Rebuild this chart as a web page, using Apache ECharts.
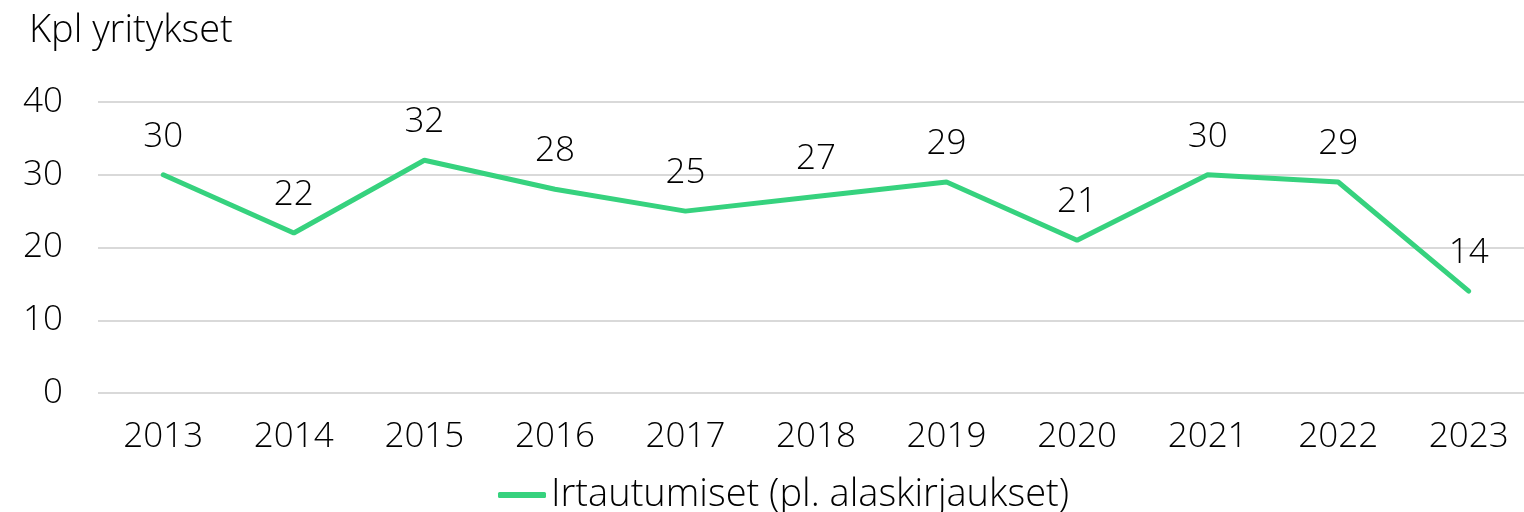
<!DOCTYPE html>
<html>
<head>
<meta charset="utf-8">
<script src="https://cdn.jsdelivr.net/npm/echarts@6/dist/echarts.min.js"></script>
<style>
  html, body { margin: 0; padding: 0; background: #fff; overflow: hidden; }
  /* a bit wider than the window so the last category band can run past the edge */
  #chart { width: 1534px; height: 512px; }
</style>
</head>
<body>
<div id="chart"></div>
<script>
// data
const years = ['2013', '2014', '2015', '2016', '2017', '2018', '2019', '2020', '2021', '2022', '2023'];
const irtautumiset = [30, 22, 32, 28, 25, 27, 29, 21, 30, 29, 14];
const seriesName = 'Irtautumiset (pl. alaskirjaukset)';
const yTitle = 'Kpl yritykset';

const fontFamily = '"Open Sans", Lato, sans-serif';
const fw = 300;
const numSize = 35;
const textSize = 38;
const textColor = '#000';
const lineColor = '#36D27E';

const myChart = echarts.init(document.getElementById('chart'));
myChart.setOption({
  animation: false,
  textStyle: { fontFamily: fontFamily, color: textColor },
  title: {
    text: yTitle,
    left: 24, top: 7,
    textStyle: { fontFamily: fontFamily, fontSize: textSize, fontWeight: fw, color: textColor }
  },
  legend: {
    top: 471, left: 493,
    itemWidth: 48, itemHeight: 6, itemGap: 12,
    icon: 'roundRect',
    textStyle: { fontFamily: fontFamily, fontSize: textSize, fontWeight: fw, color: textColor },
    data: [seriesName]
  },
  grid: { left: 98, top: 102, right: 0, height: 291, containLabel: false },
  xAxis: {
    type: 'category',
    data: years,
    boundaryGap: true,
    axisLine: { show: false },
    axisTick: { show: false },
    axisLabel: { margin: 27, fontSize: numSize, fontWeight: fw, color: textColor, fontFamily: fontFamily }
  },
  yAxis: {
    type: 'value',
    min: 0, max: 40, interval: 10,
    axisLine: { show: false },
    axisTick: { show: false },
    axisLabel: { margin: 35, fontSize: numSize, fontWeight: fw, color: textColor, fontFamily: fontFamily },
    splitLine: { lineStyle: { color: '#d9d9d9', width: 2 } }
  },
  series: [{
    name: seriesName,
    type: 'line',
    data: irtautumiset,
    showSymbol: true,
    symbol: 'circle',
    symbolSize: 1,
    lineStyle: { color: lineColor, width: 5, cap: 'round' },
    itemStyle: { color: lineColor },
    label: {
      show: true, position: 'top', distance: 20,
      fontSize: numSize, fontWeight: fw, color: textColor, fontFamily: fontFamily
    }
  }]
});
</script>
</body>
</html>
